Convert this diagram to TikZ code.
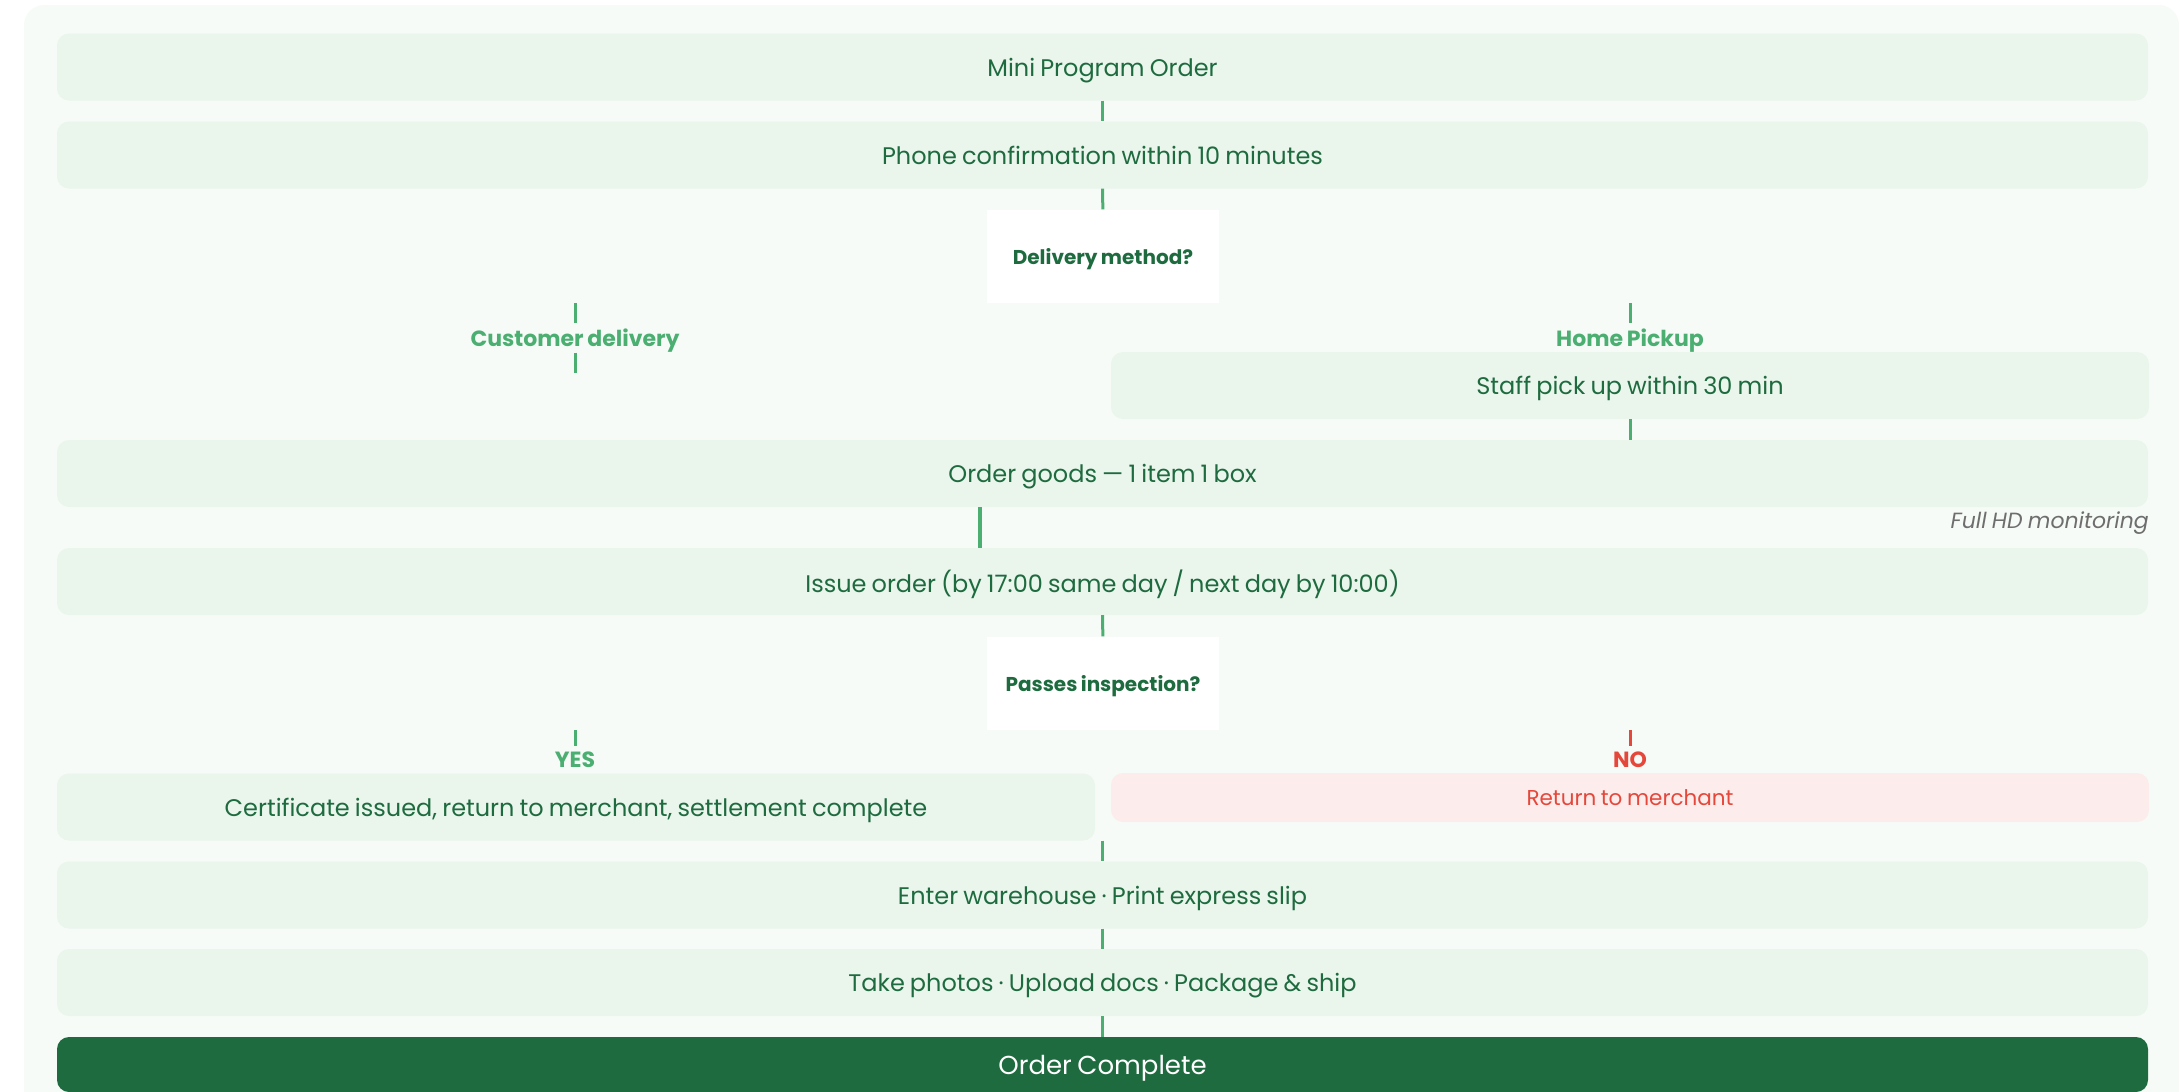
\documentclass[tikz,border=0pt]{standalone}
\usepackage{fontspec}
\setmainfont{Poppins}[WordSpace=0.8]
\usepackage{tikz}
\usetikzlibrary{positioning,calc}
\definecolor{flowBg}{HTML}{F6FBF7}
\definecolor{flowBox}{HTML}{EAF5EC}
\definecolor{flowDark}{HTML}{1E6B3F}
\definecolor{flowGreen}{HTML}{4CAF72}
\definecolor{flowRed}{HTML}{E5483B}
\definecolor{flowPink}{HTML}{FDECEC}
\definecolor{flowGrey}{HTML}{6E6E6E}

\begin{document}
\begin{tikzpicture}[
    x=1pt, y=-1pt,
    stepbox/.style={fill=flowBox, rounded corners=12pt, minimum width=2091pt, minimum height=67pt, inner sep=0pt, text depth=0pt, text=flowDark, font=\fontsize{24}{29}\selectfont},
    halfbox/.style={stepbox, minimum width=1038pt},
    ask/.style={fill=white, minimum width=232pt, minimum height=93pt, inner sep=0pt, text depth=0pt, text=flowDark, font=\fontsize{20}{24}\selectfont\bfseries},
    branch/.style={inner sep=0pt, minimum height=29pt, text depth=0pt, text=flowGreen, font=\fontsize{22}{26}\selectfont\bfseries},
    link/.style={flowGreen, line width=3pt},
    nolink/.style={link, flowRed}
]
\useasboundingbox (0,0) rectangle (2179,1092);
\fill[flowBg, rounded corners=20pt] (24,5) rectangle (2179,1130);

\node[stepbox] (order) at (1102.5,67) {Mini Program Order};
\node[stepbox] (phone) at (1102.5,155) {Phone confirmation within 10 minutes};
\node[ask] (delivery) at (1103,256) {Delivery method?};

\node[branch] (custlbl) at (575,338) {Customer delivery};
\node[branch] (homelbl) at (1630,338) {Home Pickup};
\coordinate (custend) at (575,373);
\node[halfbox] (staff) at (1630,385.5) {Staff pick up within 30 min};

\node[stepbox] (goods) at (1102.5,473.5) {Order goods — 1 item 1 box};
\node[anchor=east, inner sep=0pt, text=flowGrey, font=\fontsize{22}{26}\selectfont\itshape] (hdnote) at (2149,523) {Full HD monitoring};
\coordinate (goodsout) at (980,507);
\node[stepbox] (issue) at (1102.5,581.5) {Issue order (by 17:00 same day / next day by 10:00)};
\node[ask] (inspect) at (1103,683) {Passes inspection?};

\node[branch, minimum height=28pt] (yeslbl) at (575,760) {YES};
\node[branch, minimum height=28pt, text=flowRed] (nolbl) at (1630,760) {NO};
\node[halfbox] (cert) at (576,807) {Certificate issued, return to merchant, settlement complete};
\node[halfbox, fill=flowPink, text=flowRed, minimum height=49pt, font=\fontsize{21.5}{26}\selectfont] (ret) at (1630,797.5) {Return to merchant};

\node[stepbox] (warehouse) at (1102.5,895) {Enter warehouse · Print express slip};
\node[stepbox] (photos) at (1102.5,982.5) {Take photos · Upload docs · Package \& ship};
\node[stepbox, fill=flowDark, text=white, minimum height=55pt, font=\fontsize{26}{31}\selectfont] (done) at (1102.5,1064.5) {Order Complete};

% connectors
\draw[link] (order) -- (phone);
\draw[link] (phone) -- (delivery);
\draw[link] (custlbl.north) -- (custlbl.north |- delivery.south);
\draw[link] (custlbl.south) -- (custend);
\draw[link] (homelbl.north) -- (homelbl.north |- delivery.south);
\draw[link] (staff) -- (staff |- goods.north);
\draw[link, line width=4pt] (goodsout) -- (goodsout |- issue.north);
\draw[link] (issue) -- (inspect);
\draw[link] (yeslbl.north) -- (yeslbl.north |- inspect.south);
\draw[nolink] (nolbl.north) -- (nolbl.north |- inspect.south);
\draw[link] (warehouse.north |- cert.south) -- (warehouse.north);
\draw[link] (warehouse) -- (photos);
\draw[link] (photos) -- (done);

\end{tikzpicture}
\end{document}
